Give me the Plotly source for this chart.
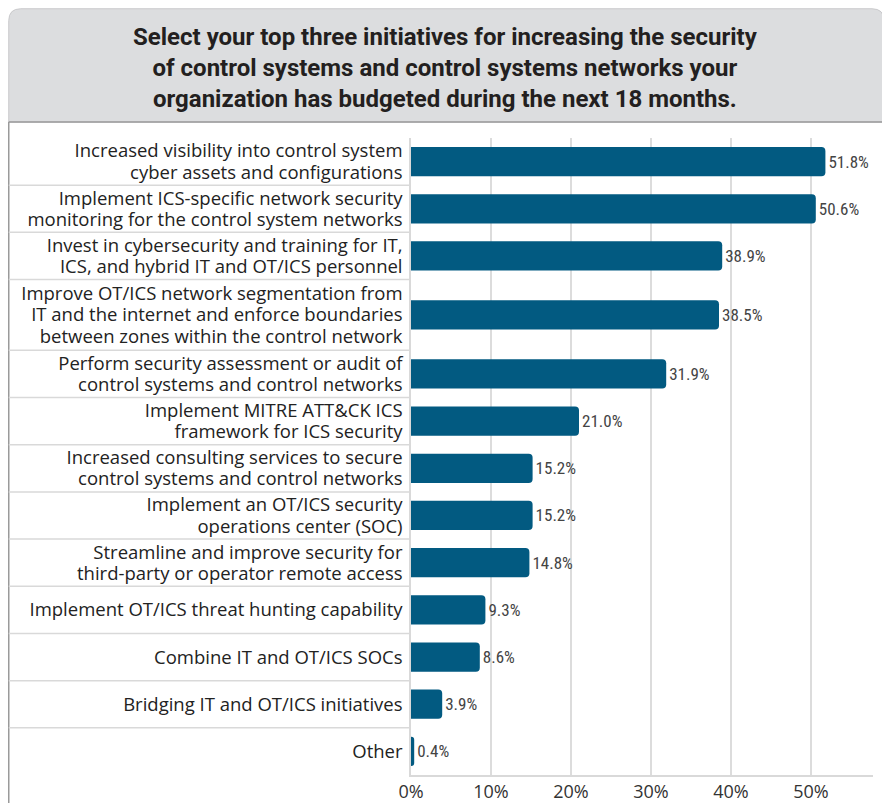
import plotly.graph_objects as go

categories = [
    "Increased visibility into control system<br>cyber assets and configurations",
    "Implement ICS-specific network security<br>monitoring for the control system networks",
    "Invest in cybersecurity and training for IT,<br>ICS, and hybrid IT and OT/ICS personnel",
    "Improve OT/ICS network segmentation from<br>IT and the internet and enforce boundaries<br>between zones within the control network",
    "Perform security assessment or audit of<br>control systems and control networks",
    "Implement MITRE ATT&CK ICS<br>framework for ICS security",
    "Increased consulting services to secure<br>control systems and control networks",
    "Implement an OT/ICS security<br>operations center (SOC)",
    "Streamline and improve security for<br>third-party or operator remote access",
    "Implement OT/ICS threat hunting capability",
    "Combine IT and OT/ICS SOCs",
    "Bridging IT and OT/ICS initiatives",
    "Other",
]
values = [51.8, 50.6, 38.9, 38.5, 31.9, 21.0, 15.2, 15.2, 14.8, 9.3, 8.6, 3.9, 0.4]
tick_vals = [0, 10, 20, 30, 40, 50]
tick_text = ["0%", "10%", "20%", "30%", "40%", "50%"]
title_text = ("Select your top three initiatives for increasing the security<br>"
              "of control systems and control systems networks your<br>"
              "organization has budgeted during the next 18 months.")

# row heights follow the number of text lines in each label (3-line rows are taller)
row_h = [1.5 if c.count("<br>") >= 2 else 1.0 for c in categories]
edges = [0.0]
for h in row_h:
    edges.append(edges[-1] + h)
y_pos = [(edges[i] + edges[i + 1]) / 2 for i in range(len(categories))]
y_total = edges[-1]

# category labels: one tick per text line, with a compact line pitch
line_pitch = 0.45
lab_vals, lab_text = [], []
for c, yc in zip(categories, y_pos):
    lines = c.split("<br>")
    n = len(lines)
    for j, ln in enumerate(lines):
        lab_vals.append(yc + (j - (n - 1) / 2) * line_pitch)
        lab_text.append(ln)

W, H = 890, 803
L, R, T, B = 403, 865, 130, 767
pw, ph = R - L, B - T

def px(x):
    return (x - L) / pw

def py(y):
    return (B - y) / ph

narrow = "Liberation Sans Narrow, Roboto Condensed, Roboto, sans-serif"

fig = go.Figure(go.Bar(
    x=values, y=y_pos, orientation="h",
    marker=dict(color="#025a81", cornerradius=4, line=dict(width=0)),
    width=0.62,
    text=[f"{v:.1f}%" for v in values], textposition="outside",
    textfont=dict(family=narrow, size=17, color="#444444"),
    cliponaxis=False, hoverinfo="skip",
))

shapes = []
# title box with rounded top corners
x0, x1, y0, y1 = 0.75, 876, 0.75, 114
r = 12
rx, ry = r / pw, r / ph
path = (f"M {px(x0)},{py(y1)} L {px(x0)},{py(y0)-ry} Q {px(x0)},{py(y0)} {px(x0)+rx},{py(y0)} "
        f"L {px(x1)-rx},{py(y0)} Q {px(x1)},{py(y0)} {px(x1)},{py(y0)-ry} L {px(x1)},{py(y1)} Z")
shapes.append(dict(type="path", path=path, xref="paper", yref="paper",
                   fillcolor="#dcdddf", line=dict(color="#c9c9cb", width=1), layer="below"))
# frame
shapes.append(dict(type="line", xref="paper", yref="paper", x0=px(0.75), x1=px(876), y0=py(114), y1=py(114),
                   line=dict(color="#9a9a9a", width=1.5)))
shapes.append(dict(type="line", xref="paper", yref="paper", x0=px(0.75), x1=px(0.75), y0=py(114), y1=py(805),
                   line=dict(color="#9a9a9a", width=1.5)))
shapes.append(dict(type="line", xref="paper", yref="paper", x0=px(876), x1=px(876), y0=py(114), y1=py(805),
                   line=dict(color="#9a9a9a", width=1.5)))
# row separators in label area
for e in edges[1:-1]:
    shapes.append(dict(type="line", xref="paper", yref="y", x0=px(0.75), x1=0, y0=e, y1=e,
                       line=dict(color="#d9d9d9", width=1.5)))

fig.update_layout(
    width=W, height=H,
    margin=dict(l=L, r=W - R, t=T, b=H - B, autoexpand=False),
    paper_bgcolor="white", plot_bgcolor="white",
    showlegend=False,
    shapes=shapes,
    annotations=[dict(text=title_text, xref="paper", yref="paper", x=px(437), y=py(60),
                      xanchor="center", yanchor="middle", showarrow=False,
                      font=dict(family="Roboto, sans-serif", size=24, color="#231f20", weight="bold"))],
    xaxis=dict(range=[0, 57.75], tickvals=tick_vals, ticktext=tick_text,
               showgrid=True, gridcolor="#dcdcdc", gridwidth=1.5,
               showline=True, linecolor="#d9d9d9", linewidth=1.5,
               zeroline=False, ticks="",
               tickfont=dict(family="Open Sans, sans-serif", size=18, color="#333333")),
    yaxis=dict(range=[y_total, 0], tickvals=lab_vals, ticktext=lab_text,
               showgrid=False, zeroline=False,
               showline=True, linecolor="#d9d9d9", linewidth=1.5, ticks="",
               ticklabelstandoff=3,
               tickfont=dict(family="Open Sans, sans-serif", size=18.5, color="#222222")),
)

fig.write_html("out.html")
